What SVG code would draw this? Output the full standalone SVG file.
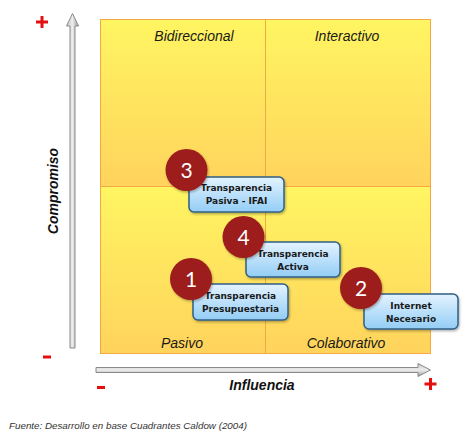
<svg xmlns="http://www.w3.org/2000/svg" width="470" height="441" viewBox="0 0 470 441">
<defs>
<linearGradient id="quad" x1="0" y1="0" x2="0" y2="1">
<stop offset="0" stop-color="#fff562"/>
<stop offset="1" stop-color="#ffd35c"/>
</linearGradient>
<linearGradient id="box" x1="0" y1="0" x2="0" y2="1">
<stop offset="0" stop-color="#e4f3ff"/>
<stop offset="1" stop-color="#93cdf5"/>
</linearGradient>
<linearGradient id="vshaft" x1="0" y1="0" x2="1" y2="0">
<stop offset="0" stop-color="#c8c8c8"/>
<stop offset="0.5" stop-color="#ececec"/>
<stop offset="1" stop-color="#9a9a9a"/>
</linearGradient>
<linearGradient id="hshaft" x1="0" y1="0" x2="0" y2="1">
<stop offset="0" stop-color="#c8c8c8"/>
<stop offset="0.5" stop-color="#ececec"/>
<stop offset="1" stop-color="#9a9a9a"/>
</linearGradient>
<filter id="sh" x="-20%" y="-20%" width="150%" height="160%">
<feDropShadow dx="1" dy="1.5" stdDeviation="1.2" flood-color="#000" flood-opacity="0.3"/>
</filter>
</defs>
<style>
.quad{fill:url(#quad);stroke:#f3a845;stroke-width:1}
.ql{font-family:"Liberation Sans",Arial,sans-serif;font-style:italic;font-size:14px;fill:#1a1a1a;text-anchor:middle}
.box{fill:url(#box);stroke:#2f5f86;stroke-width:1.5}
.bt{font-family:"DejaVu Sans",Verdana,sans-serif;font-weight:bold;font-size:9px;fill:#1a1a1a;text-anchor:middle}
.circ{fill:#9d1b1b}
.num{font-family:Lato,"Open Sans",sans-serif;font-size:21px;fill:#ffffff;text-anchor:middle}
.sign{fill:#e3100f}
.ax{font-family:"Liberation Sans",Arial,sans-serif;font-style:italic;font-weight:bold;font-size:14px;fill:#111;text-anchor:middle}
.arr{stroke:#8a8a8a;stroke-width:1}
</style>
<g id="quadrants">
<rect class="quad" x="100.5" y="19.5" width="165" height="167"/>
<rect class="quad" x="265.5" y="19.5" width="165" height="167"/>
<rect class="quad" x="100.5" y="186.5" width="165" height="167"/>
<rect class="quad" x="265.5" y="186.5" width="165" height="167"/>
<text class="ql" x="194" y="41">Bidireccional</text>
<text class="ql" x="347" y="41">Interactivo</text>
<text class="ql" x="182" y="348">Pasivo</text>
<text class="ql" x="346" y="348">Colaborativo</text>
</g>
<g id="axes">
<path class="arr" d="M70,348 V26 H66.5 L72.5,13.5 L78.5,26 H75 V348 Z" fill="url(#vshaft)"/>
<path class="arr" d="M96,367.5 H418 V363.5 L430.5,370 L418,376.5 V372.5 H96 Z" fill="url(#hshaft)"/>
<path class="sign" d="M48,20.5 h-4.5 v-4.5 h-3 v4.5 h-4.5 v3 h4.5 v4.5 h3 v-4.5 h4.5 z"/>
<rect class="sign" x="43" y="355.5" width="8" height="3"/>
<rect class="sign" x="97" y="386" width="8" height="3"/>
<path class="sign" d="M432,382.5 h4.5 v3 h-4.5 v4.5 h-3 v-4.5 h-4.5 v-3 h4.5 v-4.5 h3 z"/>
<text class="ax" x="58" y="191" transform="rotate(-90 58 191)">Compromiso</text>
<text class="ax" x="262" y="390">Influencia</text>
</g>
<g id="connectors"></g>
<g id="node3">
<rect class="box" x="189" y="177" width="95" height="35" rx="5" filter="url(#sh)"/>
<text class="bt" x="236.5" y="191">Transparencia</text>
<text class="bt" x="236.5" y="204">Pasiva - IFAI</text>
<circle class="circ" cx="186.5" cy="170" r="21" filter="url(#sh)"/>
<text class="num" x="186.5" y="177.5">3</text>
</g>
<g id="node4">
<rect class="box" x="246" y="242" width="94" height="35" rx="5" filter="url(#sh)"/>
<text class="bt" x="293" y="257">Transparencia</text>
<text class="bt" x="293" y="270">Activa</text>
<circle class="circ" cx="243.5" cy="237" r="21" filter="url(#sh)"/>
<text class="num" x="243.5" y="244.5">4</text>
</g>
<g id="node1">
<rect class="box" x="193" y="284" width="95" height="36" rx="5" filter="url(#sh)"/>
<text class="bt" x="240.5" y="299">Transparencia</text>
<text class="bt" x="240.5" y="312">Presupuestaria</text>
<circle class="circ" cx="191" cy="279" r="21" filter="url(#sh)"/>
<text class="num" x="191" y="286.5">1</text>
</g>
<g id="node2">
<rect class="box" x="364" y="294" width="94" height="35" rx="5" filter="url(#sh)"/>
<text class="bt" x="411" y="309">Internet</text>
<text class="bt" x="411" y="322">Necesario</text>
<circle class="circ" cx="361" cy="288" r="21" filter="url(#sh)"/>
<text class="num" x="361" y="295.5">2</text>
</g>
<text x="9" y="429" font-family="'Liberation Sans',Arial,sans-serif" font-style="italic" font-size="9.8" fill="#333">Fuente: Desarrollo en base Cuadrantes Caldow (2004)</text>
</svg>
